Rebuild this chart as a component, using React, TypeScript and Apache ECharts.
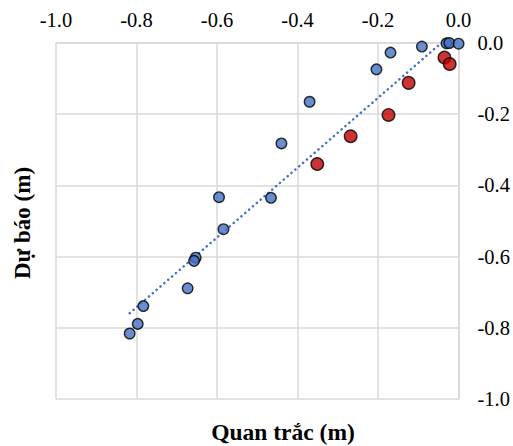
import React, { useEffect, useRef } from "react";
import * as echarts from "echarts";

const blueObserved = [-0.091, -0.03, -0.023, 0.0, -0.169, -0.204, -0.37, -0.44, -0.595, -0.466, -0.584, -0.653, -0.657, -0.673, -0.783, -0.797, -0.817];
const bluePredicted = [-0.01, -0.001, 0.0, -0.002, -0.027, -0.074, -0.165, -0.282, -0.433, -0.435, -0.523, -0.603, -0.612, -0.689, -0.739, -0.789, -0.816];
const redObserved = [-0.035, -0.022, -0.124, -0.174, -0.268, -0.351];
const redPredicted = [-0.041, -0.059, -0.112, -0.202, -0.262, -0.34];
const trendX = [-0.817, -0.043];
const trendY = [-0.759, 0.0];
const tickLabels = ["-1.0", "-0.8", "-0.6", "-0.4", "-0.2", "0.0"];

const FONT = "Liberation Serif";

export default function App() {
  const ref = useRef<HTMLDivElement>(null);
  useEffect(() => {
    if (!ref.current) return;
    const chart = echarts.init(ref.current, undefined, { renderer: "svg" });
    const fmt = (v: number) => {
      const idx = Math.round((v + 1) / 0.2);
      return tickLabels[idx] ?? v.toFixed(1);
    };
    chart.setOption({
      animation: false,
      backgroundColor: "#ffffff",
      textStyle: { fontFamily: FONT },
      grid: { left: 56, top: 43, right: 52, bottom: 47, containLabel: false },
      xAxis: {
        type: "value",
        position: "top",
        min: -1,
        max: 0,
        interval: 0.2,
        axisLine: { show: true, onZero: false, lineStyle: { color: "#d9d9d9", width: 1.5 } },
        axisTick: { show: false },
        splitLine: { show: true, lineStyle: { color: "#d9d9d9", width: 1.5 } },
        axisLabel: { formatter: fmt, fontFamily: FONT, fontSize: 20.5, color: "#000", margin: 13 },
      },
      yAxis: {
        type: "value",
        position: "right",
        min: -1,
        max: 0,
        interval: 0.2,
        axisLine: { show: true, onZero: false, lineStyle: { color: "#d9d9d9", width: 1.5 } },
        axisTick: { show: false },
        splitLine: { show: true, lineStyle: { color: "#d9d9d9", width: 1.5 } },
        axisLabel: { formatter: fmt, fontFamily: FONT, fontSize: 20.5, color: "#000", margin: 19 },
      },
      graphic: [
        {
          type: "text",
          x: 283,
          y: 432,
          style: {
            text: "Quan trắc (m)",
            fontFamily: FONT,
            fontWeight: "bold",
            fontSize: 23.5,
            fill: "#000",
            textAlign: "center",
            textVerticalAlign: "middle",
          },
        },
        {
          type: "text",
          x: 22,
          y: 223,
          rotation: Math.PI / 2,
          style: {
            text: "Dự báo (m)",
            fontFamily: FONT,
            fontWeight: "bold",
            fontSize: 23,
            fill: "#000",
            textAlign: "center",
            textVerticalAlign: "middle",
          },
        },
      ],
      series: [
        {
          type: "line",
          data: trendX.map((x, i) => [x, trendY[i]]),
          showSymbol: false,
          symbol: "none",
          lineStyle: { color: "#4472C4", width: 2.5, type: [0.1, 5], cap: "round" },
          z: 1,
        },
        {
          type: "scatter",
          data: blueObserved.map((x, i) => [x, bluePredicted[i]]),
          symbolSize: 10.5,
          itemStyle: { color: "#4472C4", borderColor: "#000", borderWidth: 1.4 },
          z: 3,
        },
        {
          type: "scatter",
          data: redObserved.map((x, i) => [x, redPredicted[i]]),
          symbolSize: 12.5,
          itemStyle: { color: "#C00000", borderColor: "#000", borderWidth: 1.4 },
          z: 2,
        },
      ],
    });
    return () => chart.dispose();
  }, []);
  return (
    <div style={{ position: "fixed", left: 0, top: 0, width: 513, height: 446, overflow: "hidden", background: "#fff" }}>
      <div ref={ref} style={{ width: 513, height: 446 }} />
    </div>
  );
}
